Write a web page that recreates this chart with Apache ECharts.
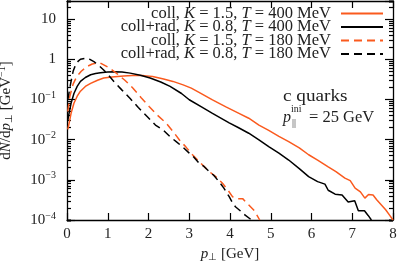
<!DOCTYPE html>
<html>
<head>
<meta charset="utf-8">
<script src="https://cdn.jsdelivr.net/npm/echarts@6/dist/echarts.min.js"></script>
<style>html,body{margin:0;padding:0;background:#fff}#c{width:399px;height:262px}</style>
</head>
<body>
<div id="c"></div>
<script>
// ---- data ----
const seriesNames = [
  'coll, K = 1.5, T = 400 MeV',
  'coll+rad, K = 0.8, T = 400 MeV',
  'coll, K = 1.5, T = 180 MeV',
  'coll+rad, K = 0.8, T = 180 MeV'
];
const legendLabels = [
  'coll, {i|K} = 1.5, {i|T} = 400 MeV',
  'coll+rad, {i|K} = 0.8, {i|T} = 400 MeV',
  'coll, {i|K} = 1.5, {i|T} = 180 MeV',
  'coll+rad, {i|K} = 0.8, {i|T} = 180 MeV'
];
const pCollT400 = [0.02,0.05,0.1,0.17,0.25,0.33,0.45,0.58,0.75,0.9,1.1,1.39,1.6,1.88,2.1,2.37,2.6,2.85,3.05,3.24,3.57,3.9,4.22,4.46,4.71,4.95,5.2,5.44,5.7,5.93,6.15,6.41,6.6,6.82,6.95,7.07,7.2,7.31,7.4,7.51,7.6,7.71,7.82,7.92,8.0];
const vCollT400 = [0.018,0.025,0.045,0.08,0.12,0.16,0.21,0.25,0.3,0.34,0.36,0.38,0.39,0.39,0.37,0.32,0.28,0.23,0.19,0.15,0.097,0.065,0.045,0.034,0.023,0.017,0.012,0.0089,0.0062,0.0042,0.0031,0.0021,0.0016,0.0011,0.00095,0.00062,0.0005,0.00035,0.00043,0.00042,0.00032,0.00024,0.00018,0.00013,0.0001];
const pRadT400 = [0.02,0.05,0.1,0.17,0.25,0.33,0.45,0.58,0.7,0.82,1.0,1.15,1.35,1.55,1.8,2.04,2.3,2.53,2.81,3.0,3.3,3.57,3.98,4.2,4.46,4.71,4.95,5.2,5.44,5.7,5.93,6.15,6.33,6.41,6.58,6.75,6.9,7.06,7.15,7.3,7.39,7.47];
const vRadT400 = [0.03,0.045,0.08,0.14,0.21,0.28,0.35,0.41,0.44,0.46,0.48,0.49,0.48,0.45,0.4,0.34,0.27,0.21,0.14,0.098,0.065,0.045,0.026,0.02,0.0144,0.0099,0.0067,0.0046,0.0031,0.0019,0.0012,0.0009,0.00078,0.00055,0.00044,0.00042,0.00028,0.0003,0.00017,0.00017,0.00013,0.0001];
const pCollT180 = [0.02,0.07,0.15,0.24,0.35,0.48,0.62,0.8,1.0,1.21,1.42,1.62,1.82,2.02,2.2,2.43,2.6,2.76,2.92,3.08,3.28,3.49,3.65,3.81,3.95,4.06,4.18,4.31,4.42,4.6,4.73];
const vCollT180 = [0.05,0.12,0.24,0.37,0.5,0.65,0.76,0.82,0.64,0.45,0.3,0.19,0.11,0.066,0.042,0.026,0.016,0.0098,0.0065,0.0042,0.0026,0.0016,0.0012,0.00083,0.00055,0.00038,0.00034,0.00034,0.00026,0.00017,0.0001];
const pRadT180 = [0.02,0.09,0.15,0.21,0.27,0.33,0.46,0.55,0.66,0.78,0.9,1.02,1.15,1.35,1.55,1.75,1.96,2.17,2.37,2.52,2.68,2.85,3.0,3.12,3.24,3.35,3.49,3.6,3.73,3.85,3.98,4.07,4.14,4.25,4.38,4.53];
const vRadT180 = [0.1,0.25,0.5,0.72,0.88,1.0,1.06,1.0,0.87,0.7,0.54,0.4,0.28,0.17,0.105,0.063,0.038,0.023,0.017,0.012,0.0089,0.0064,0.0046,0.0036,0.0026,0.0022,0.0016,0.0013,0.0009,0.00062,0.00038,0.00026,0.00021,0.00017,0.00013,0.0001];
const yMin = 1e-4, yMax = 28;
const minorFactors = [2,3,4,5,6,7,8,9];

const ORANGE = '#fa5a1e';
const FONT = 'Liberation Serif';
function pairs(p, v){ return p.map((x,i)=>[x, v[i]]); }
function tk(len){ return {show:true, inside:true, length:len, lineStyle:{color:'#000', width:1.2}}; }

const chart = echarts.init(document.getElementById('c'), null, {renderer:'canvas'});
const yLabelFmt = v => { const e = Math.round(Math.log10(v)); if (e===0) return '1'; if (e===1) return '10'; return '10{sup|\u2212'+(-e)+'}'; };

// auxiliary log axes: range divided by k puts their decade ticks at k*10^n of the main scale (minor ticks)
const auxAxes = [], auxSeries = [];
['left','right'].forEach(pos => minorFactors.forEach(k => {
  auxAxes.push({
    type:'log', logBase:10, min:yMin/k, max:yMax/k, position:pos,
    axisLine:{show:true, onZero:false, lineStyle:{color:'rgba(0,0,0,0)', width:0}},
    axisTick:tk(4), axisLabel:{show:false}, splitLine:{show:false}
  });
  auxSeries.push({type:'line', name:'aux'+pos+k, xAxisIndex:0, yAxisIndex:2+auxSeries.length, data:[], silent:true, symbol:'none'});
}));

chart.setOption({
  animation:false,
  grid:{left:67, right:6, top:1, bottom:42, outerBoundsMode:'none', containLabel:false},
  legend:{
    data: seriesNames, orient:'vertical', right:15, top:5, padding:0, align:'right',
    itemWidth:42, itemHeight:13, itemGap:-3.5,
    itemStyle:{opacity:0},
    formatter: name => legendLabels[seriesNames.indexOf(name)],
    textStyle:{fontFamily:FONT, fontSize:16.5, color:'#222', padding:[0,5,0,0],
      rich:{i:{fontFamily:FONT, fontStyle:'italic', fontSize:16.5, color:'#222'}}}
  },
  xAxis:[
    {type:'value', min:0, max:8, interval:1, position:'bottom',
     axisLine:{show:true, onZero:false, lineStyle:{color:'#000', width:1.3}}, axisTick:tk(7),
     axisLabel:{fontFamily:FONT, fontSize:15, color:'#222', margin:7},
     splitLine:{show:false},
     name:'{i|p}{sub|\u22a5} [GeV]', nameLocation:'middle', nameGap:22,
     nameTextStyle:{fontFamily:FONT, fontSize:15, color:'#222', rich:{i:{fontFamily:FONT,fontStyle:'italic',fontSize:15,color:'#222'}, sub:{fontFamily:FONT,fontSize:10,color:'#222',padding:[6,0,0,0]}}}},
    {type:'value', min:0, max:8, interval:1, position:'top',
     axisLine:{show:true, onZero:false, lineStyle:{color:'#000', width:1.3}}, axisTick:tk(7),
     axisLabel:{show:false}, splitLine:{show:false}}
  ],
  yAxis:[
    {type:'log', min:yMin, max:yMax, logBase:10, position:'left',
     axisLine:{show:true, onZero:false, lineStyle:{color:'#000', width:1.3}}, axisTick:tk(8),
     axisLabel:{fontFamily:FONT, fontSize:15, color:'#222', margin:11, formatter:yLabelFmt, showMaxLabel:false,
       rich:{sup:{fontFamily:FONT, fontSize:10, color:'#222', padding:[0,0,8,0]}}},
     splitLine:{show:false}, minorTick:{show:false},
     name:'d{i|N}/d{i|p}{sub|\u22a5} [GeV{sup|\u22121}]', nameLocation:'middle', nameGap:52, nameRotate:90,
     nameTextStyle:{fontFamily:FONT, fontSize:15, color:'#222', rich:{i:{fontFamily:FONT,fontStyle:'italic',fontSize:15,color:'#222'}, sub:{fontFamily:FONT,fontSize:10,color:'#222',padding:[6,0,0,0]}, sup:{fontFamily:FONT,fontSize:10,color:'#222',padding:[0,0,8,0]}}}},
    {type:'log', min:yMin, max:yMax, logBase:10, position:'right',
     axisLine:{show:true, onZero:false, lineStyle:{color:'#000', width:1.3}}, axisTick:tk(8),
     axisLabel:{show:false}, splitLine:{show:false}}
  ].concat(auxAxes),
  series:[
    {name:seriesNames[0], type:'line', data:pairs(pCollT400,vCollT400), showSymbol:false, symbol:'none', lineStyle:{color:ORANGE, width:1.5}, itemStyle:{color:ORANGE}},
    {name:seriesNames[1], type:'line', data:pairs(pRadT400,vRadT400), showSymbol:false, symbol:'none', lineStyle:{color:'#000', width:1.5}, itemStyle:{color:'#000'}},
    {name:seriesNames[2], type:'line', data:pairs(pCollT180,vCollT180), showSymbol:false, symbol:'none', lineStyle:{color:ORANGE, width:1.5, type:[8,5]}, itemStyle:{color:ORANGE}},
    {name:seriesNames[3], type:'line', data:pairs(pRadT180,vRadT180), showSymbol:false, symbol:'none', lineStyle:{color:'#000', width:1.5, type:[8,5]}, itemStyle:{color:'#000'}}
  ].concat(auxSeries),
  graphic:[
    {type:'text', x:283, y:97, scaleX:1.2, style:{text:'c quarks', fontFamily:FONT, fontSize:16, fill:'#222', verticalAlign:'middle'}},
    {type:'text', x:283, y:118, style:{text:'p', fontFamily:FONT, fontStyle:'italic', fontSize:16, fill:'#222', verticalAlign:'middle'}},
    {type:'text', x:291, y:109, style:{text:'ini', fontFamily:FONT, fontSize:10, fill:'#222', verticalAlign:'middle'}},
    {type:'text', x:292, y:123, style:{text:'||', fontFamily:FONT, fontSize:10, fill:'#222', verticalAlign:'middle'}},
    {type:'text', x:309, y:118, style:{text:'= 25 GeV', fontFamily:FONT, fontSize:16.5, fill:'#222', verticalAlign:'middle'}}
  ]
});
</script>
</body>
</html>
